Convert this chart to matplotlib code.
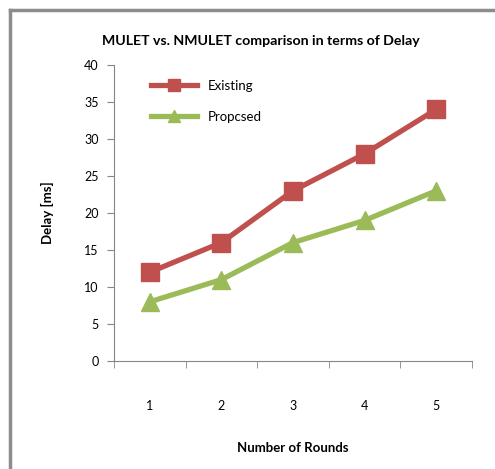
import numpy as np
import matplotlib
matplotlib.use('Agg')
import matplotlib.pyplot as plt
from matplotlib.lines import Line2D

# Delay per round for both schemes
rounds = ['1', '2', '3', '4', '5']
existing = [12, 16, 23, 28, 34]
proposed = [8, 11, 16, 19, 23]

plt.rcParams['font.family'] = ['Lato', 'DejaVu Sans']

fig = plt.figure(figsize=(4.95, 4.69), dpi=100)
ax = fig.add_axes([114 / 495, 1 - 361 / 469, (472 - 114) / 495, (361 - 65) / 469])

x = np.arange(len(rounds))
ax.plot(x, existing, color='#C0504D', lw=3.8, marker='s', ms=13.5, label='Existing')
ax.plot(x, proposed, color='#9BBB59', lw=3.8, marker='^', ms=13.5, label='Propcsed')

ax.set_xlim(-0.5, len(rounds) - 0.5)
ax.set_ylim(0, 40)
ax.set_yticks(np.arange(0, 41, 5))
ax.set_xticks(x)
ax.set_xticklabels(rounds)
ax.set_xticks(np.arange(-0.5, len(rounds)), minor=True)
ax.tick_params(axis='x', which='major', length=0, pad=28, labelsize=9)
ax.tick_params(axis='x', which='minor', length=5, color='#868686')
ax.tick_params(axis='y', length=5, color='#868686', labelsize=9, pad=6)

for side in ['top', 'right']:
    ax.spines[side].set_visible(False)
for side in ['left', 'bottom']:
    ax.spines[side].set_color('#868686')

ax.set_xlabel('Number of Rounds', fontweight='bold', fontsize=9.5, labelpad=22)
ax.set_ylabel('Delay [ms]', fontweight='bold', fontsize=9.5, labelpad=22)
fig.text(0.527, 1 - 41 / 469, 'MULET vs. NMULET comparison in terms of Delay',
         ha='center', va='center', fontweight='bold', fontsize=10.2)

ax.legend(loc='upper left', bbox_to_anchor=(0.07, 0.99), frameon=False,
          fontsize=9.5, handlelength=3.5, labelspacing=1.45, markerscale=0.6)

# outer chart frame
fig.add_artist(Line2D([10 / 495, 10 / 495], [0, 1 - 10 / 469], color='#8C8C8C', lw=2.5))
fig.add_artist(Line2D([10 / 495, 1], [1 - 10 / 469, 1 - 10 / 469], color='#8C8C8C', lw=2.5))

fig.savefig('out.png', dpi=100)
